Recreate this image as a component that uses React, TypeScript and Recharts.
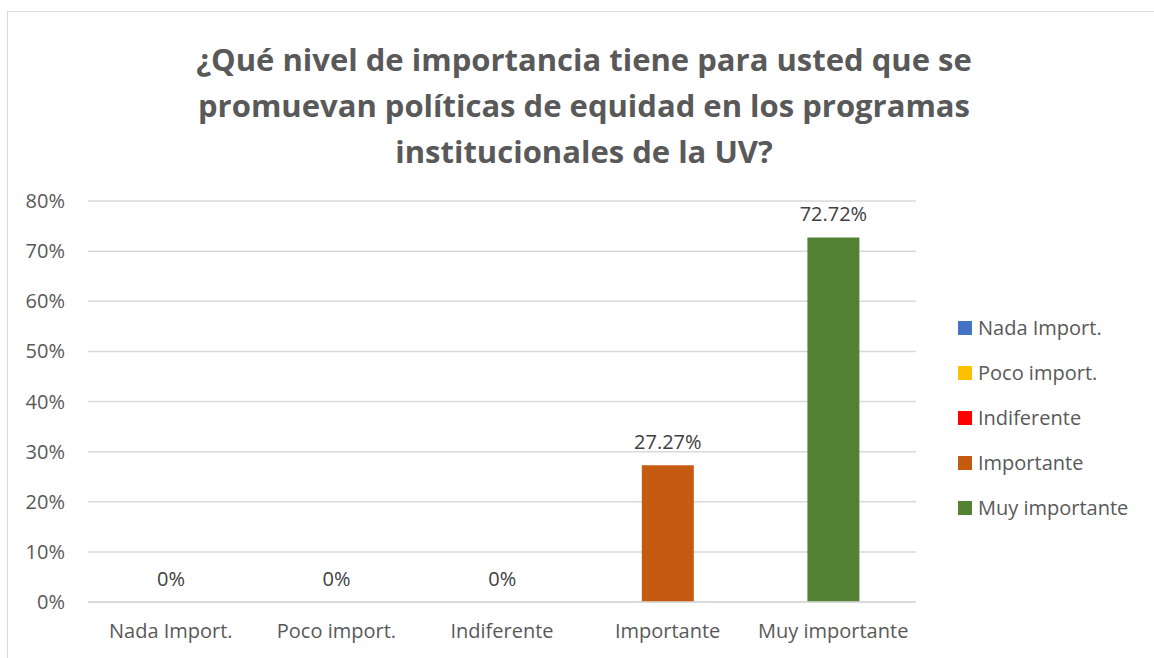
import { BarChart, Bar, Cell, XAxis, YAxis, CartesianGrid, LabelList } from 'recharts'

const categories = ['Nada Import.', 'Poco import.', 'Indiferente', 'Importante', 'Muy importante']
const percents = [0, 0, 0, 27.27, 72.72]
const colors = ['#4472C4', '#FFC000', '#FF0000', '#C55A11', '#548235']
const yTicks = [0, 10, 20, 30, 40, 50, 60, 70, 80]
const titleLines = [
  '¿Qué nivel de importancia tiene para usted que se',
  'promuevan políticas de equidad en los programas',
  'institucionales de la UV?',
]

const data = categories.map((name, i) => ({ name, value: percents[i] }))

const FONT = '"Open Sans", sans-serif'
const TEXT = '#595959'

export default function App() {
  return (
    <div style={{ position: 'fixed', left: 0, top: 0, width: 1154, height: 658, overflow: 'hidden', background: '#fff', fontFamily: FONT }}>
      <div style={{ position: 'absolute', left: 7, top: 11, width: 1160, height: 700, border: '1.5px solid #D9D9D9' }} />
      <div style={{ position: 'absolute', left: 100, top: 36, width: 968, textAlign: 'center', color: TEXT, fontWeight: 700, fontSize: 31, lineHeight: '46px' }}>
        {titleLines.map((l) => (
          <div key={l}>{l}</div>
        ))}
      </div>
      <div style={{ position: 'absolute', left: 0, top: 0 }}>
        <BarChart width={1154} height={658} data={data} margin={{ top: 201, right: 238, bottom: 16, left: 0 }}>
          <CartesianGrid vertical={false} stroke="#D9D9D9" strokeWidth={1.5} />
          <XAxis
            dataKey="name"
            axisLine={{ stroke: '#D9D9D9', strokeWidth: 1.5 }}
            tickLine={false}
            tickSize={0}
            tickMargin={22}
            height={40}
            tick={{ fill: TEXT, fontSize: 20, fontFamily: FONT }}
            interval={0}
          />
          <YAxis
            domain={[0, 80]}
            ticks={yTicks}
            axisLine={false}
            tickLine={false}
            tickSize={0}
            tickMargin={23}
            width={88}
            tickFormatter={(v: number) => `${v}%`}
            tick={{ fill: TEXT, fontSize: 20, fontFamily: FONT }}
          />
          <Bar dataKey="value" barSize={52} minPointSize={0.01} isAnimationActive={false}>
            {data.map((d, i) => (
              <Cell key={d.name} fill={colors[i]} />
            ))}
            <LabelList
              dataKey="value"
              position="top"
              offset={16}
              formatter={(v: number) => `${v}%`}
              style={{ fill: '#404040', fontSize: 20, fontFamily: FONT }}
            />
          </Bar>
        </BarChart>
      </div>
      <div style={{ position: 'absolute', left: 958, top: 305, color: TEXT, fontSize: 20 }}>
        {categories.map((c, i) => (
          <div key={c} style={{ display: 'flex', alignItems: 'center', height: 45 }}>
            <span style={{ width: 14, height: 14, background: colors[i], marginRight: 6 }} />
            <span>{c}</span>
          </div>
        ))}
      </div>
    </div>
  )
}
